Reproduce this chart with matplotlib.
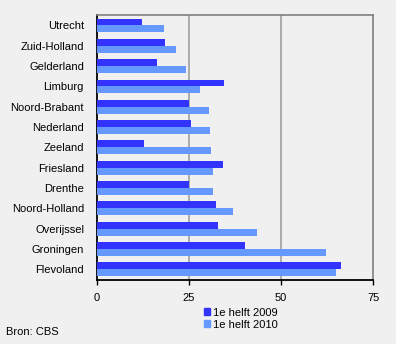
import matplotlib.pyplot as plt
import numpy as np
from matplotlib.patches import Patch

plt.rcParams['font.family'] = ['Liberation Sans', 'DejaVu Sans']

# regions, top to bottom
regions = ['Utrecht', 'Zuid-Holland', 'Gelderland', 'Limburg', 'Noord-Brabant',
           'Nederland', 'Zeeland', 'Friesland', 'Drenthe', 'Noord-Holland',
           'Overijssel', 'Groningen', 'Flevoland']
helft_2009 = [12.3, 18.6, 16.3, 34.6, 25.1, 25.6, 12.8, 34.3, 25.1, 32.4, 32.9, 40.2, 66.3]
helft_2010 = [18.3, 21.5, 24.2, 28.0, 30.5, 30.8, 31.0, 31.6, 31.6, 37.0, 43.5, 62.2, 64.9]
series_names = ['1e helft 2009', '1e helft 2010']
xticks = [0, 25, 50, 75]

bg = '#f0f0f0'
c2009 = '#3333ff'
c2010 = '#6699ff'
fs = 8

fig = plt.figure(figsize=(3.96, 3.44), dpi=100, facecolor=bg)
ax = fig.add_axes([96.5 / 396, 1 - 279.5 / 344, (373.3 - 96.5) / 396, (279.5 - 15.3) / 344])
ax.set_facecolor(bg)

y = np.arange(len(regions))
h = 0.34
ax.barh(y - h / 2, helft_2009, height=h, color=c2009, zorder=3)
ax.barh(y + h / 2, helft_2010, height=h, color=c2010, zorder=3)

ax.set_ylim(len(regions) - 0.5, -0.5)
ax.set_xlim(0, 75)
ax.set_xticks(xticks)
ax.set_yticks(y)
ax.set_yticklabels(regions, fontsize=fs)
ax.tick_params(axis='y', length=0, pad=9)
ax.tick_params(axis='x', length=3.5, width=1, labelsize=fs, pad=6, color='black')

# grid lines at inner ticks
for t in xticks[1:-1]:
    ax.axvline(t, color='#a0a0a0', lw=1.2, zorder=1)

for side in ['top', 'right']:
    ax.spines[side].set_color('#808080')
    ax.spines[side].set_linewidth(1.2)
for side in ['left', 'bottom']:
    ax.spines[side].set_color('black')
    ax.spines[side].set_linewidth(1.3)

handles = [Patch(color=c2009), Patch(color=c2010)]
fig.legend(handles, series_names, loc='upper left', bbox_to_anchor=(196 / 396, 1 - 300 / 344),
           frameon=False, fontsize=fs, handlelength=0.6, handleheight=0.6,
           handletextpad=0.25, labelspacing=0.16, borderpad=0.2)

fig.text(5.5 / 396, 1 - 332 / 344, 'Bron: CBS', fontsize=fs, va='center', ha='left')

fig.savefig('out.png', dpi=100, facecolor=bg)
